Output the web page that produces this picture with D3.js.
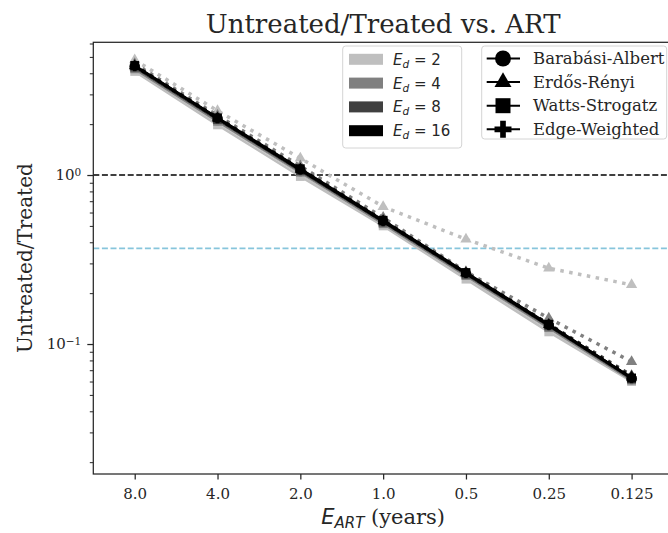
<!DOCTYPE html>
<html>
<head>
<meta charset="utf-8">
<script src="https://cdn.jsdelivr.net/npm/d3@7"></script>
<style>
  body { margin: 0; background: #fff; }
  svg { display: block; }
</style>
</head>
<body>
<div id="chart"></div>
<script>
// Data
const xLabels = ["8.0", "4.0", "2.0", "1.0", "0.5", "0.25", "0.125"];
const degrees = [2, 4, 8, 16];
const degreeColors = ["#bfbfbf", "#808080", "#404040", "#000000"];
const networks = ["Barabási-Albert", "Erdős-Rényi", "Watts-Strogatz", "Edge-Weighted"];

// one row per E_d (2, 4, 8, 16)
const baValues = [
  [4.20, 2.06, 1.02, 0.505, 0.250, 0.123, 0.0605],
  [4.30, 2.10, 1.05, 0.520, 0.256, 0.126, 0.0615],
  [4.36, 2.14, 1.06, 0.528, 0.260, 0.128, 0.0625],
  [4.40, 2.16, 1.07, 0.532, 0.262, 0.129, 0.0628]
];
const erValues = [
  [4.79, 2.40, 1.255, 0.65, 0.417, 0.281, 0.224],
  [4.55, 2.25, 1.13, 0.56, 0.268, 0.142, 0.0786],
  [4.45, 2.19, 1.09, 0.540, 0.264, 0.131, 0.0650],
  [4.42, 2.17, 1.08, 0.535, 0.263, 0.130, 0.0635]
];
const wsValues = [
  [4.10, 1.98, 0.98, 0.500, 0.242, 0.118, 0.0600],
  [4.25, 2.08, 1.04, 0.515, 0.254, 0.125, 0.0612],
  [4.35, 2.13, 1.06, 0.527, 0.259, 0.128, 0.0622],
  [4.45, 2.18, 1.09, 0.540, 0.265, 0.131, 0.0630]
];
const ewValues = [
  [4.22, 2.07, 1.03, 0.508, 0.251, 0.124, 0.0608],
  [4.32, 2.11, 1.05, 0.522, 0.257, 0.127, 0.0618],
  [4.38, 2.15, 1.07, 0.530, 0.261, 0.129, 0.0626],
  [4.42, 2.17, 1.08, 0.536, 0.263, 0.130, 0.0632]
];
const refLines = [1, 0.368];
const refColors = ["#000000", "#87c5dc"];

let w = 668;
let h = 533;
let plotLeft = 93.3, plotRight = 673, plotTop = 42.3, plotBottom = 474;
let serif = "DejaVu Serif";
let sans = "DejaVu Sans";
let ink = "#262626";

let svg = d3.select("#chart")
  .append("svg")
  .attr("width", w)
  .attr("height", h)
  .style("overflow", "hidden");

let x = d3.scalePoint()
  .domain(xLabels)
  .range([plotLeft, plotRight])
  .padding(0.5);

let y = d3.scaleLog()
  .domain([0.01702, 6.1])
  .range([plotBottom, plotTop]);

// reference lines
refLines.forEach((v, i) => {
  svg.append("line")
    .attr("x1", plotLeft).attr("x2", plotRight)
    .attr("y1", y(v)).attr("y2", y(v))
    .attr("stroke", refColors[i])
    .attr("stroke-width", 1.6)
    .attr("stroke-dasharray", "6,2.6");
});

// series
let allSeries = [baValues, erValues, wsValues, ewValues];
let symbols = [d3.symbolCircle, d3.symbolTriangle, d3.symbolSquare, d3.symbolCross];
let plotSizes = [64, 55, 78, 55];
let line = d3.line()
  .x((d, i) => x(xLabels[i]))
  .y(d => y(d));

degrees.forEach((deg, di) => {
  allSeries.forEach((series, ni) => {
    let vals = series[di];
    let g = svg.append("g");
    g.append("path")
      .attr("d", line(vals))
      .attr("fill", "none")
      .attr("stroke", degreeColors[di])
      .attr("stroke-width", ni == 1 ? 3.5 : 2.5)
      .attr("stroke-dasharray", ni == 1 ? "3.5,5.5" : null);
    g.selectAll("path.m")
      .data(vals)
      .join("path")
      .attr("class", "m")
      .attr("transform", (d, i) => `translate(${x(xLabels[i])},${y(d)})`)
      .attr("d", d3.symbol(symbols[ni], plotSizes[ni]))
      .attr("fill", degreeColors[di]);
  });
});

// frame
svg.append("rect")
  .attr("x", plotLeft).attr("y", plotTop)
  .attr("width", plotRight - plotLeft).attr("height", plotBottom - plotTop)
  .attr("fill", "none")
  .attr("stroke", ink)
  .attr("stroke-width", 1.25);

// x axis
let xAxis = svg.append("g")
  .attr("transform", `translate(0,${plotBottom})`)
  .call(d3.axisBottom(x).tickSize(5.5).tickPadding(9));
xAxis.select(".domain").remove();
xAxis.selectAll("line").attr("stroke", ink).attr("stroke-width", 1.25);
xAxis.selectAll("text")
  .style("font-family", serif)
  .style("font-size", "15px")
  .attr("fill", ink);

// y axis major
let yAxis = svg.append("g")
  .attr("transform", `translate(${plotLeft},0)`)
  .call(d3.axisLeft(y).tickValues([0.1, 1]).tickSize(6).tickPadding(6).tickFormat(""));
yAxis.select(".domain").remove();
yAxis.selectAll("line").attr("stroke", ink).attr("stroke-width", 1.25);
yAxis.selectAll(".tick text")
  .style("font-family", serif)
  .style("font-size", "15px")
  .attr("fill", ink)
  .attr("dy", "0.32em")
  .each(function(d) {
    let t = d3.select(this);
    t.append("tspan").text("10");
    t.append("tspan")
      .attr("dy", "-0.45em")
      .style("font-size", "10.5px")
      .text(d >= 1 ? "0" : "\u22121");
  });

// y axis minor
let minor = [];
for (let p of [0.01, 0.1, 1]) {
  for (let k = 2; k <= 9; k++) {
    let v = p * k;
    if (v > y.domain()[0] && v < y.domain()[1]) minor.push(v);
  }
}
let yMinor = svg.append("g")
  .attr("transform", `translate(${plotLeft},0)`)
  .call(d3.axisLeft(y).tickValues(minor).tickSize(3.5).tickFormat(""));
yMinor.select(".domain").remove();
yMinor.selectAll("line").attr("stroke", ink).attr("stroke-width", 1);

// title
svg.append("text")
  .attr("x", (plotLeft + plotRight) / 2)
  .attr("y", 33)
  .attr("text-anchor", "middle")
  .style("font-family", serif)
  .style("font-size", "26px")
  .attr("fill", ink)
  .text("Untreated/Treated vs. ART");

// y label
svg.append("text")
  .attr("transform", `translate(32,${(plotTop + plotBottom) / 2}) rotate(-90)`)
  .attr("text-anchor", "middle")
  .style("font-family", serif)
  .style("font-size", "20px")
  .attr("fill", ink)
  .text("Untreated/Treated");

// x label
let xl = svg.append("text")
  .attr("x", (plotLeft + plotRight) / 2)
  .attr("y", 524)
  .attr("text-anchor", "middle")
  .style("font-family", serif)
  .style("font-size", "21px")
  .attr("fill", ink);
xl.append("tspan").style("font-family", sans).style("font-style", "italic").text("E");
xl.append("tspan").style("font-family", sans).style("font-style", "italic")
  .style("font-size", "15px").attr("dy", 4).text("ART");
xl.append("tspan").attr("dy", -4).text(" (years)");

// legend for E_d
let leg1 = svg.append("g");
leg1.append("rect")
  .attr("x", 342.7).attr("y", 46)
  .attr("width", 119).attr("height", 102)
  .attr("rx", 3)
  .attr("fill", "white").attr("fill-opacity", 0.8)
  .attr("stroke", "#d4d4d4");
degrees.forEach((deg, i) => {
  let ry = 59.3 + i * 23.8;
  leg1.append("rect")
    .attr("x", 349).attr("y", ry - 5.5)
    .attr("width", 34).attr("height", 11)
    .attr("fill", degreeColors[i]);
  let t = leg1.append("text")
    .attr("x", 393).attr("y", ry + 5.5)
    .style("font-family", sans)
    .style("font-size", "15px")
    .attr("fill", ink);
  t.append("tspan").style("font-style", "italic").text("E");
  t.append("tspan").style("font-style", "italic").style("font-size", "10.5px").attr("dy", 3).text("d");
  t.append("tspan").attr("dy", -3).text(" = " + deg);
});

// legend for networks
let leg2 = svg.append("g");
leg2.append("rect")
  .attr("x", 481.7).attr("y", 46)
  .attr("width", 185).attr("height", 93)
  .attr("rx", 3)
  .attr("fill", "white").attr("fill-opacity", 0.8)
  .attr("stroke", "#d4d4d4");
let legSizes = [200, 125, 225, 160];
networks.forEach((name, i) => {
  let ry = 58.5 + i * 23.6;
  leg2.append("line")
    .attr("x1", 486.7).attr("x2", 520)
    .attr("y1", ry).attr("y2", ry)
    .attr("stroke", "black").attr("stroke-width", 2);
  leg2.append("path")
    .attr("transform", `translate(503,${ry})`)
    .attr("d", d3.symbol(symbols[i], legSizes[i]))
    .attr("fill", "black");
  leg2.append("text")
    .attr("x", 533).attr("y", ry + 5.5)
    .style("font-family", serif)
    .style("font-size", "16.5px")
    .attr("fill", ink)
    .text(name);
});
</script>
</body>
</html>
